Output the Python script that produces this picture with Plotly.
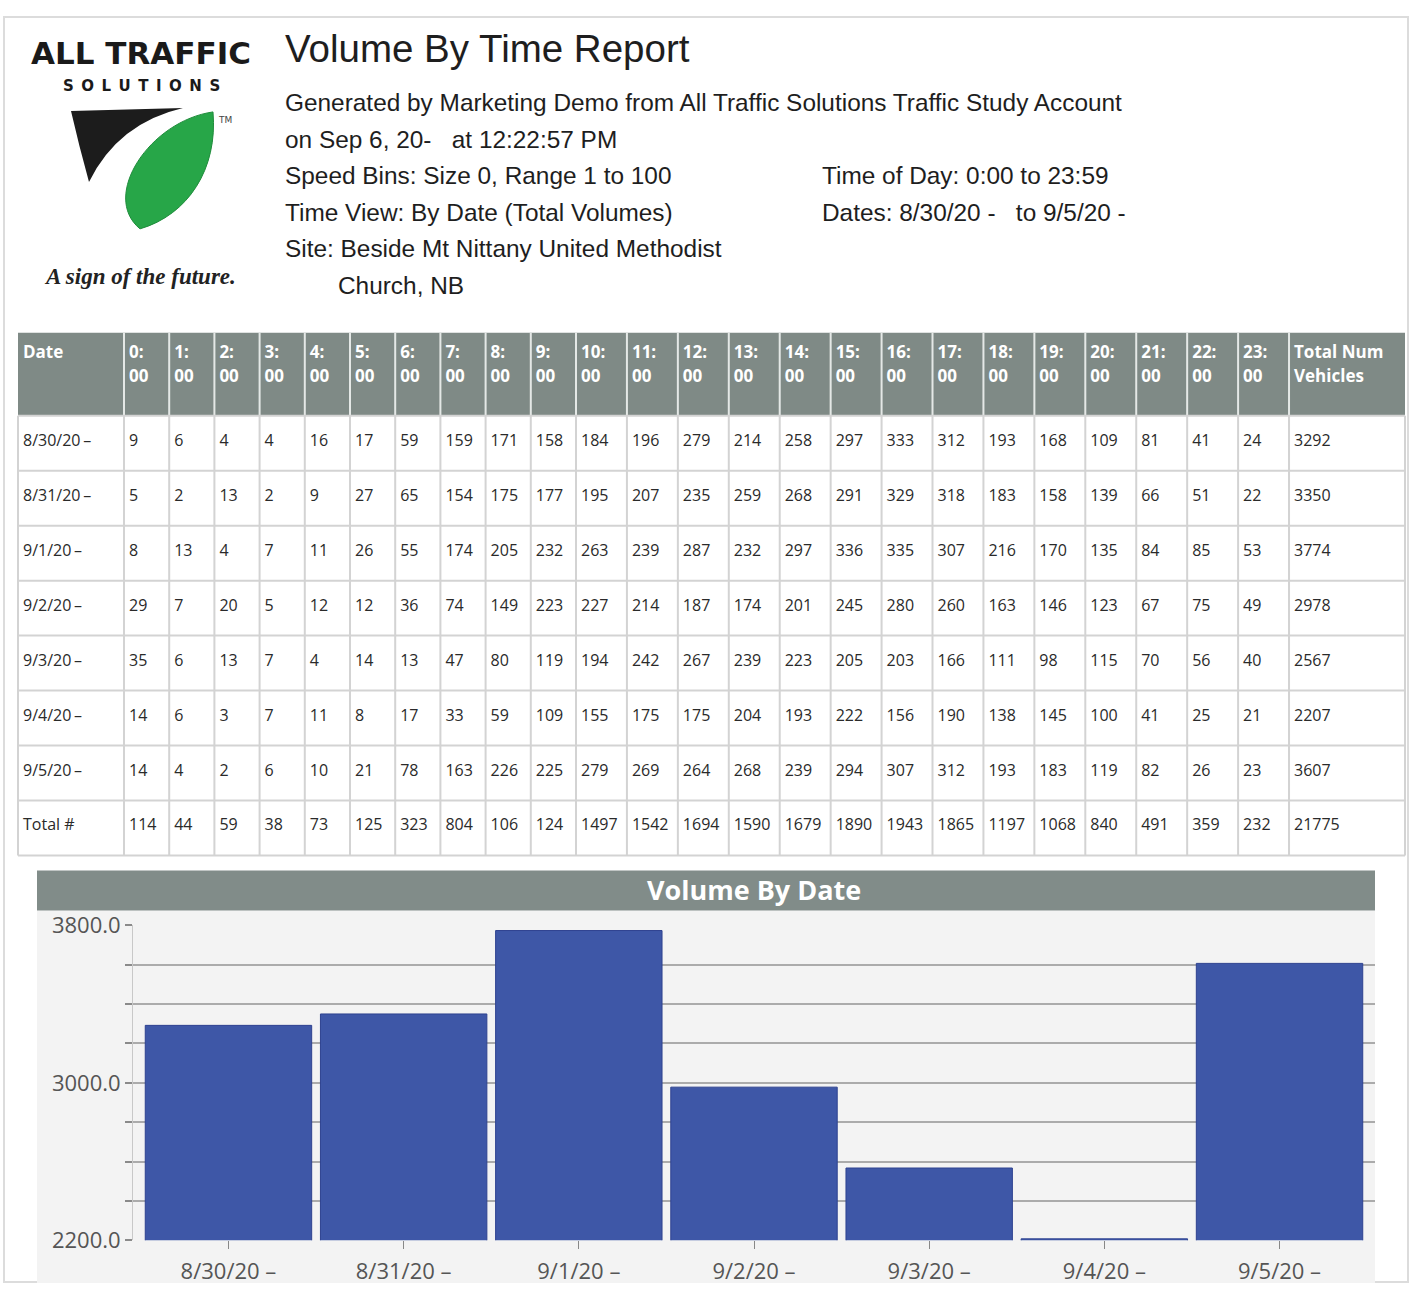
import plotly.graph_objects as go

W, H = 1413, 1297

# ---------------- data ----------------
hour_line1 = [f"{h}:" for h in range(24)]
hour_line2 = ["00"] * 24
table_dates = ["8/30/20\u2009–", "8/31/20\u2009–", "9/1/20\u2009–", "9/2/20\u2009–",
               "9/3/20\u2009–", "9/4/20\u2009–", "9/5/20\u2009–"]
total_label = "Total #"
row_0830 = [9, 6, 4, 4, 16, 17, 59, 159, 171, 158, 184, 196, 279, 214, 258, 297, 333, 312, 193, 168, 109, 81, 41, 24]
row_0831 = [5, 2, 13, 2, 9, 27, 65, 154, 175, 177, 195, 207, 235, 259, 268, 291, 329, 318, 183, 158, 139, 66, 51, 22]
row_0901 = [8, 13, 4, 7, 11, 26, 55, 174, 205, 232, 263, 239, 287, 232, 297, 336, 335, 307, 216, 170, 135, 84, 85, 53]
row_0902 = [29, 7, 20, 5, 12, 12, 36, 74, 149, 223, 227, 214, 187, 174, 201, 245, 280, 260, 163, 146, 123, 67, 75, 49]
row_0903 = [35, 6, 13, 7, 4, 14, 13, 47, 80, 119, 194, 242, 267, 239, 223, 205, 203, 166, 111, 98, 115, 70, 56, 40]
row_0904 = [14, 6, 3, 7, 11, 8, 17, 33, 59, 109, 155, 175, 175, 204, 193, 222, 156, 190, 138, 145, 100, 41, 25, 21]
row_0905 = [14, 4, 2, 6, 10, 21, 78, 163, 226, 225, 279, 269, 264, 268, 239, 294, 307, 312, 193, 183, 119, 82, 26, 23]
total_row = [114, 44, 59, 38, 73, 125, 323, 804, 106, 124, 1497, 1542, 1694, 1590, 1679, 1890, 1943, 1865, 1197, 1068, 840, 491, 359, 232]
daily_totals = [3292, 3350, 3774, 2978, 2567, 2207, 3607]
grand_total = 21775
chart_dates = ["8/30/20 –", "8/31/20 –", "9/1/20 –", "9/2/20 –", "9/3/20 –", "9/4/20 –", "9/5/20 –"]
y_ticks = [2200, 2400, 2600, 2800, 3000, 3200, 3400, 3600, 3800]
y_labels = ["2200.0", "", "", "", "3000.0", "", "", "", "3800.0"]

# ---------------- helpers (layout pixel -> paper) ----------------
# vertical calibration of the capture (observed: shown_y = 0.9775 * fig_y + 15)
V_SCALE, V_OFF = 0.9775, 15.0


def px(x):
    return x / W


def fy(y):
    """target picture row -> figure row"""
    return (y - V_OFF) / V_SCALE


def py(y):
    return 1 - fy(y) / H


def pyf(y_fig):
    return 1 - y_fig / H


def svg_path(cmds):
    out = []
    for c, pts in cmds:
        if c == "Z":
            out.append("Z")
            continue
        out.append(c + " ".join(f"{px(a):.5f},{py(b):.5f}" for a, b in pts))
    return " ".join(out)


HEADER_GREY = "#7f8a86"
BAR_BLUE = "#3e57a7"
TEXT = "#1e1e1e"
GRID = "#d3d3d3"

rows = [row_0830, row_0831, row_0901, row_0902, row_0903, row_0904, row_0905]

# ---------------- table geometry (pixel units on its own axes) ----------------
T_LEFT, T_RIGHT, T_TOP, T_BOTTOM = 18, 1405, 332, 855
HEAD_H, ROW_H = 83, 55
PAD = 3
col_widths = [106] + [45.2] * 10 + [50.93] * 14 + [116]
edges = [0]
for w in col_widths:
    edges.append(edges[-1] + w)
t_w = T_RIGHT - T_LEFT
t_h = T_BOTTOM - T_TOP

header1 = ["Date"] + hour_line1 + ["Total Num"]
header2 = [""] + hour_line2 + ["Vehicles"]

columns = [table_dates + [total_label]]
for h in range(24):
    columns.append([r[h] for r in rows] + [total_row[h]])
columns.append(daily_totals + [grand_total])

TXT_OFF = 5

fig = go.Figure()

# header text (two lines)
for line_vals, ycen in ((header1, 21), (header2, 45)):
    fig.add_trace(go.Scatter(
        x=[edges[i] + TXT_OFF for i in range(len(line_vals))],
        y=[ycen] * len(line_vals),
        text=[f"<b>{v}</b>" if v else "" for v in line_vals],
        mode="text", textposition="middle right",
        textfont=dict(family="Open Sans", size=17, color="white"),
        xaxis="x2", yaxis="y2", showlegend=False, hoverinfo="skip", cliponaxis=False,
    ))

# body text
bx, by, bt = [], [], []
for ci, col in enumerate(columns):
    for ri, v in enumerate(col):
        bx.append(edges[ci] + TXT_OFF)
        by.append(HEAD_H + ROW_H * ri + 26)
        bt.append(str(v))
fig.add_trace(go.Scatter(
    x=bx, y=by, text=bt, mode="text", textposition="middle right",
    textfont=dict(family="Open Sans", size=16, color="#2a2a2a"),
    xaxis="x2", yaxis="y2", showlegend=False, hoverinfo="skip", cliponaxis=False,
))

# bar chart
fig.add_trace(go.Bar(
    x=chart_dates,
    y=daily_totals,
    marker=dict(color=BAR_BLUE, line=dict(color="#2e4290", width=1)),
    showlegend=False,
    hoverinfo="x+y",
))

fig.update_layout(
    width=W,
    height=H,
    margin=dict(l=0, r=0, t=0, b=0),
    paper_bgcolor="white",
    plot_bgcolor="white",
    bargap=0.05,
    xaxis=dict(
        domain=[px(133), px(1375)],
        range=[-0.545, 6.545],
        showgrid=False,
        ticks="outside",
        ticklen=8,
        tickwidth=1,
        tickcolor="#888888",
        tickfont=dict(family="Open Sans", size=22, color="#555555"),
        ticklabelstandoff=3,
        showline=False,
        zeroline=False,
        fixedrange=True,
    ),
    yaxis=dict(
        domain=[py(1240), py(925)],
        range=[2200, 3800],
        tickmode="array",
        tickvals=y_ticks,
        ticktext=y_labels,
        showgrid=True,
        gridcolor="#ababab",
        gridwidth=2,
        ticks="outside",
        ticklen=7,
        tickwidth=2,
        tickcolor="#8a8a8a",
        tickfont=dict(family="Open Sans", size=22, color="#555555"),
        showline=True,
        linecolor="#c8c8c8",
        linewidth=1,
        zeroline=False,
        fixedrange=True,
    ),
    xaxis2=dict(
        domain=[px(T_LEFT - PAD), px(T_RIGHT + PAD)],
        range=[-PAD, t_w + PAD],
        visible=False, fixedrange=True,
    ),
    yaxis2=dict(
        domain=[py(T_BOTTOM + PAD), py(T_TOP - PAD)],
        range=[t_h + PAD, -PAD],
        visible=False, fixedrange=True,
    ),
)

shapes = []
# page frame (at the figure edges)
shapes.append(dict(type="rect", xref="paper", yref="paper",
                   x0=px(4), x1=px(1408), y0=pyf(H - 1), y1=pyf(1),
                   line=dict(color="#dcdcdc", width=2), fillcolor="rgba(0,0,0,0)", layer="below"))
# table header background
shapes.append(dict(type="rect", xref="x2", yref="y2", x0=0, x1=t_w, y0=0, y1=HEAD_H,
                   line=dict(width=0), fillcolor=HEADER_GREY, layer="below"))
# header separators
for e in edges[1:-1]:
    shapes.append(dict(type="line", xref="x2", yref="y2", x0=e, x1=e, y0=0, y1=HEAD_H,
                       line=dict(color="#e4e8e6", width=2), layer="below"))
# body horizontal lines
for ri in range(len(columns[0]) + 1):
    yy = HEAD_H + ROW_H * ri
    shapes.append(dict(type="line", xref="x2", yref="y2", x0=0, x1=t_w, y0=yy, y1=yy,
                       line=dict(color=GRID, width=2), layer="below"))
# body vertical lines
for e in edges:
    shapes.append(dict(type="line", xref="x2", yref="y2", x0=e, x1=e, y0=HEAD_H, y1=t_h,
                       line=dict(color=GRID, width=2), layer="below"))
# chart panel background
shapes.append(dict(type="rect", xref="paper", yref="paper",
                   x0=px(37), x1=px(1375), y0=max(py(1285), 0), y1=py(910),
                   line=dict(width=0), fillcolor="#f3f3f3", layer="below"))
# chart title bar
shapes.append(dict(type="rect", xref="paper", yref="paper",
                   x0=px(37), x1=px(1375), y0=py(910), y1=py(870),
                   line=dict(width=0), fillcolor="#818c89", layer="below"))
# logo: black wedge
shapes.append(dict(type="path", xref="paper", yref="paper",
                   path=svg_path([("M", [(71, 110)]), ("L", [(183, 107)]),
                                  ("Q", [(118, 122), (89, 181)]),
                                  ("Q", [(79, 145), (71, 110)]), ("Z", [])]),
                   fillcolor="#1c1c1c", line=dict(width=0)))
# logo: green leaf
shapes.append(dict(type="path", xref="paper", yref="paper",
                   path=svg_path([("M", [(213, 111)]),
                                  ("C", [(150, 120), (100, 195), (140, 228)]),
                                  ("C", [(188, 214), (218, 168), (213, 111)]), ("Z", [])]),
                   fillcolor="#27a648", line=dict(color="#1f8c3b", width=1)))

annotations = []


def add_text(x, y, text, size, color=TEXT, family="Liberation Sans", anchor="left"):
    annotations.append(dict(
        x=px(x), y=py(y), xref="paper", yref="paper", text=text, showarrow=False,
        xanchor=anchor, yanchor="middle",
        font=dict(family=family, size=size, color=color),
    ))


add_text(141, 52, "<b>ALL TRAFFIC</b>", 31, color="#1a1a1a", family="DejaVu Sans", anchor="center")
add_text(141, 85, "<b>S\u2002O\u2002L\u2002U\u2002T\u2002I\u2002O\u2002N\u2002S</b>", 15,
         color="#1a1a1a", family="DejaVu Sans", anchor="center")
add_text(225, 119, "TM", 9, color="#444444", family="DejaVu Sans", anchor="center")
add_text(140, 276, "<b><i>A sign of the future.</i></b>", 23, color="#222222",
         family="Liberation Serif", anchor="center")

add_text(283, 48, "Volume By Time Report", 38.5)
add_text(283, 102, "Generated by Marketing Demo from All Traffic Solutions Traffic Study Account", 24.4)
add_text(283, 139, "on Sep 6, 20-\u00a0\u00a0\u00a0at 12:22:57 PM", 24.4)
add_text(283, 175, "Speed Bins: Size 0, Range 1 to 100", 24.4)
add_text(283, 212, "Time View: By Date (Total Volumes)", 24.4)
add_text(283, 248, "Site: Beside Mt Nittany United Methodist", 24.4)
add_text(336, 285, "Church, NB", 24.4)
add_text(820, 175, "Time of Day: 0:00 to 23:59", 24.4)
add_text(820, 212, "Dates: 8/30/20 -\u00a0\u00a0\u00a0to 9/5/20 -", 24.4)

add_text(754, 889, "<b>Volume By Date</b>", 27, color="white", family="Open Sans", anchor="center")

fig.update_layout(shapes=shapes, annotations=annotations)

fig.write_html(
    "out.html",
    config={"displayModeBar": False},
    post_script=(
        "document.documentElement.style.margin='0px';"
        "document.body.style.margin='0px';"
        "document.documentElement.style.overflow='hidden';"
        "document.body.style.overflow='hidden';"
    ),
)
